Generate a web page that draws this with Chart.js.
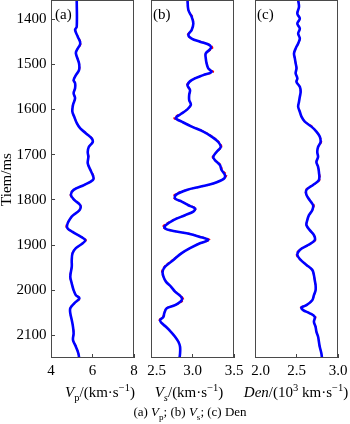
<!DOCTYPE html>
<html><head><meta charset="utf-8">
<script src="https://cdn.jsdelivr.net/npm/chart.js@4"></script>
<style>
html,body{margin:0;padding:0;background:#fff;}
#wrap{position:relative;width:350px;height:424px;overflow:hidden;font-family:"Liberation Serif","Times New Roman",serif;color:#000;}
.pane{position:absolute;top:0;height:385px;}
.lbl{position:absolute;font-size:15px;line-height:15px;white-space:nowrap;}
.xt{position:absolute;font-size:15px;line-height:18px;white-space:nowrap;transform:translateX(-50%);}
.cap{position:absolute;font-size:13px;line-height:16px;white-space:nowrap;transform:translateX(-50%);}
sub,sup{font-size:70%;line-height:0;}
</style></head>
<body><div id="wrap">
<div class="pane" style="left:0;width:140px"><canvas id="ca"></canvas></div>
<div class="pane" style="left:130px;width:120px"><canvas id="cb"></canvas></div>
<div class="pane" style="left:235px;width:115px"><canvas id="cc"></canvas></div>
<div class="lbl" style="left:55px;top:7px">(a)</div>
<div class="lbl" style="left:153px;top:7px">(b)</div>
<div class="lbl" style="left:257px;top:7px">(c)</div>
<div class="xt" style="left:100px;top:383px"><i>V</i><sub>p</sub>/(km·s<sup>−1</sup>)</div>
<div class="xt" style="left:189px;top:383px"><i>V</i><sub><i>s</i></sub>/(km·s<sup>−1</sup>)</div>
<div class="xt" style="left:296px;top:383px"><i>Den</i>/(10<sup>3</sup> km·s<sup>−1</sup>)</div>
<div class="cap" style="left:190px;top:404px">(a) <i>V</i><sub>p</sub>; (b) <i>V</i><sub>s</sub>; (c) Den</div>
</div>
<script>
// ---- data ----
const vpTime = [1358,1417,1424,1439,1454,1469,1476,1498,1513,1524,1535,1542,1553,1564,1575,1590,1605,1616,1631,1642,1653,1664,1672,1683,1694,1705,1719,1734,1749,1756,1767,1778,1789,1800,1812,1823,1837,1860,1871,1882,1889,1896,1907,1918,1933,1948,1970,1985,2000,2011,2018,2029,2040,2051,2066,2081,2096,2110,2125,2140,2155];
const vpPred = [5.24,5.24,5.16,5.29,5.41,5.24,5.20,5.35,5.35,5.20,5.09,5.16,5.16,5.09,5.16,5.06,5.03,5.12,5.25,5.41,5.69,5.96,6.01,5.82,5.77,5.80,5.77,5.90,6.04,6.02,5.61,5.09,4.96,5.12,5.41,5.37,5.00,4.77,5.04,5.45,5.65,5.53,5.20,5.04,5.00,5.00,4.93,5.00,5.09,5.20,5.37,5.12,4.93,4.93,5.00,5.06,5.09,5.06,5.20,5.32,5.37];
const vpTrue = [5.24,5.24,5.17,5.30,5.44,5.24,5.20,5.36,5.36,5.20,5.08,5.16,5.16,5.08,5.16,5.05,5.01,5.12,5.25,5.42,5.70,5.98,6.02,5.82,5.77,5.82,5.77,5.91,6.07,6.02,5.61,5.08,4.93,5.12,5.43,5.37,5.00,4.73,5.03,5.46,5.69,5.53,5.20,5.03,5.00,5.00,4.92,5.00,5.09,5.21,5.40,5.12,4.92,4.93,5.00,5.07,5.09,5.06,5.21,5.32,5.37];

const vsTime = [1358,1380,1395,1410,1424,1435,1443,1450,1458,1465,1476,1487,1498,1509,1517,1524,1535,1546,1557,1568,1579,1590,1601,1609,1616,1620,1627,1638,1649,1660,1672,1683,1694,1705,1712,1723,1734,1745,1753,1764,1771,1778,1789,1797,1804,1812,1819,1826,1834,1845,1860,1867,1874,1882,1889,1896,1907,1918,1933,1948,1959,1970,1981,1992,2003,2014,2022,2033,2040,2051,2059,2066,2073,2081,2092,2103,2114,2125,2140,2155];
const vsPred = [2.94,2.95,2.99,3.01,2.99,2.95,2.99,3.09,3.21,3.22,3.16,3.16,3.17,3.19,3.23,3.13,2.99,2.94,2.97,2.96,2.96,2.98,2.93,2.87,2.81,2.80,2.87,2.99,3.13,3.23,3.31,3.34,3.29,3.25,3.27,3.33,3.35,3.39,3.38,3.25,3.09,2.93,2.80,2.79,2.87,2.95,3.03,3.01,2.91,2.77,2.66,2.72,2.93,3.09,3.19,3.09,2.97,2.87,2.77,2.67,2.64,2.65,2.68,2.74,2.79,2.86,2.87,2.79,2.69,2.66,2.65,2.61,2.63,2.68,2.74,2.79,2.83,2.85,2.85,2.84];
const vsTrue = [2.94,2.95,3.00,3.01,2.99,2.94,2.99,3.10,3.22,3.24,3.16,3.16,3.17,3.19,3.25,3.13,2.99,2.93,2.97,2.96,2.96,2.98,2.93,2.86,2.79,2.78,2.87,3.00,3.14,3.24,3.32,3.35,3.29,3.24,3.27,3.34,3.36,3.41,3.38,3.25,3.10,2.93,2.78,2.78,2.87,2.96,3.04,3.01,2.91,2.76,2.64,2.72,2.94,3.10,3.21,3.09,2.97,2.87,2.76,2.66,2.63,2.65,2.68,2.74,2.79,2.87,2.89,2.79,2.68,2.66,2.64,2.60,2.63,2.68,2.74,2.79,2.83,2.85,2.85,2.84];

const denTime = [1358,1373,1388,1399,1410,1421,1432,1443,1454,1465,1476,1487,1498,1509,1520,1531,1539,1550,1561,1572,1583,1594,1605,1616,1627,1638,1649,1660,1672,1683,1694,1705,1716,1727,1738,1756,1767,1778,1789,1801,1812,1823,1834,1845,1856,1867,1878,1889,1900,1911,1922,1933,1944,1955,1967,1978,1989,2000,2011,2022,2033,2038,2044,2051,2059,2070,2081,2092,2103,2114,2125,2140,2155];
const denPred = [2.52,2.53,2.51,2.54,2.51,2.54,2.52,2.54,2.52,2.49,2.47,2.48,2.49,2.50,2.49,2.51,2.50,2.54,2.55,2.54,2.53,2.52,2.54,2.56,2.60,2.68,2.74,2.78,2.79,2.76,2.75,2.76,2.74,2.76,2.77,2.77,2.70,2.62,2.62,2.66,2.70,2.69,2.65,2.63,2.62,2.66,2.71,2.72,2.64,2.54,2.51,2.55,2.62,2.69,2.71,2.72,2.73,2.73,2.71,2.69,2.62,2.56,2.58,2.66,2.72,2.71,2.73,2.74,2.76,2.77,2.78,2.80,2.81];
const denTrue = [2.52,2.53,2.51,2.54,2.51,2.54,2.52,2.54,2.52,2.49,2.47,2.48,2.49,2.50,2.49,2.51,2.50,2.54,2.55,2.54,2.53,2.52,2.54,2.56,2.60,2.69,2.74,2.78,2.80,2.76,2.75,2.76,2.74,2.76,2.77,2.78,2.70,2.61,2.62,2.66,2.71,2.69,2.65,2.63,2.62,2.66,2.71,2.73,2.64,2.53,2.50,2.55,2.62,2.69,2.71,2.72,2.73,2.73,2.71,2.69,2.62,2.55,2.58,2.66,2.73,2.71,2.73,2.74,2.76,2.77,2.78,2.80,2.81];

const vpTicks = [4,6,8];        const vpTickLabels = ['4','6','8'];
const vsTicks = [2.5,3.0,3.5];  const vsTickLabels = ['2.5','3.0','3.5'];
const denTicks = [2.0,2.5,3.0]; const denTickLabels = ['2.0','2.5','3.0'];
const timeTicks = [1400,1500,1600,1700,1800,1900,2000,2100];
const timeTickLabels = ['1400','1500','1600','1700','1800','1900','2000','2100'];

// ---- drawing ----
const FONT = {family:"'Liberation Serif','Times New Roman',serif", size:15};
const boxPlugin = {id:'box', afterDraw(chart){
  const {ctx, chartArea:a} = chart;
  ctx.save(); ctx.strokeStyle='#4a4a4a'; ctx.lineWidth=1;
  const l=Math.round(a.left)+0.5, t=Math.round(a.top)-0.5, r=Math.round(a.right)-0.5, b=Math.round(a.bottom)-0.5;
  ctx.strokeRect(l, t, r-l, b-t); ctx.restore();
}};

function pts(times, vals){ return times.map((t,i)=>({x:vals[i], y:t})); }

function makeChart(id, times, pred, truth, xmin, xmax, ticks, labels, shiftFirst, showY, pad){
  return new Chart(document.getElementById(id), {
    type:'scatter',
    data:{datasets:[
      {data:pts(times, pred), showLine:true, borderColor:'#0000ff', borderWidth:2.6, pointRadius:0, tension:0.35, clip:0, order:0},
      {data:pts(times, truth), showLine:true, borderColor:'#ff0000', borderWidth:1.6, borderDash:[3,2], pointRadius:0, tension:0.35, clip:0, order:1}
    ]},
    options:{
      responsive:true, maintainAspectRatio:false, animation:false, devicePixelRatio:1,
      layout:{padding:pad},
      plugins:{legend:{display:false}, tooltip:{enabled:false}},
      events:[],
      scales:{
        x:{type:'linear', min:xmin, max:xmax,
          afterBuildTicks:s=>{ s.ticks = ticks.map(v=>({value:v})); },
          ticks:{autoSkip:false, maxRotation:0, padding:8, color:'#000', font:FONT,
            callback:(v,i)=> (shiftFirst && i===0 ? '   ' : '') + labels[i]},
          grid:{drawOnChartArea:false, drawTicks:true, tickLength:-4, color:'#444', lineWidth:1},
          border:{display:false},
          afterFit:s=>{ s.height=27; s.paddingLeft=0; s.paddingRight=0; }
        },
        y:{type:'linear', reverse:true, min:1360, max:2150, display:showY,
          afterBuildTicks:s=>{ s.ticks = timeTicks.map(v=>({value:v})); },
          ticks:{autoSkip:false, padding:8.5, color:'#000', font:FONT,
            callback:(v,i)=> timeTickLabels[i]},
          grid:{drawOnChartArea:false, drawTicks:true, tickLength:-4, color:'#444', lineWidth:1},
          border:{display:false},
          title:{display:showY, text:'Tiem/ms', color:'#000', font:Object.assign({lineHeight:1}, FONT), padding:0},
          afterFit:s=>{ if(showY){ s.width=51; } s.paddingTop=0; s.paddingBottom=0; }
        }
      }
    },
    plugins:[boxPlugin]
  });
}

makeChart('ca', vpTime, vpPred, vpTrue, 4, 8, vpTicks, vpTickLabels, false, true, {left:0,right:6,top:1,bottom:0});
makeChart('cb', vsTime, vsPred, vsTrue, 2.5, 3.5, vsTicks, vsTickLabels, true, false, {left:21,right:16,top:1,bottom:0});
makeChart('cc', denTime, denPred, denTrue, 2.0, 3.0, denTicks, denTickLabels, true, false, {left:20,right:12,top:1,bottom:0});
</script>
</body></html>
